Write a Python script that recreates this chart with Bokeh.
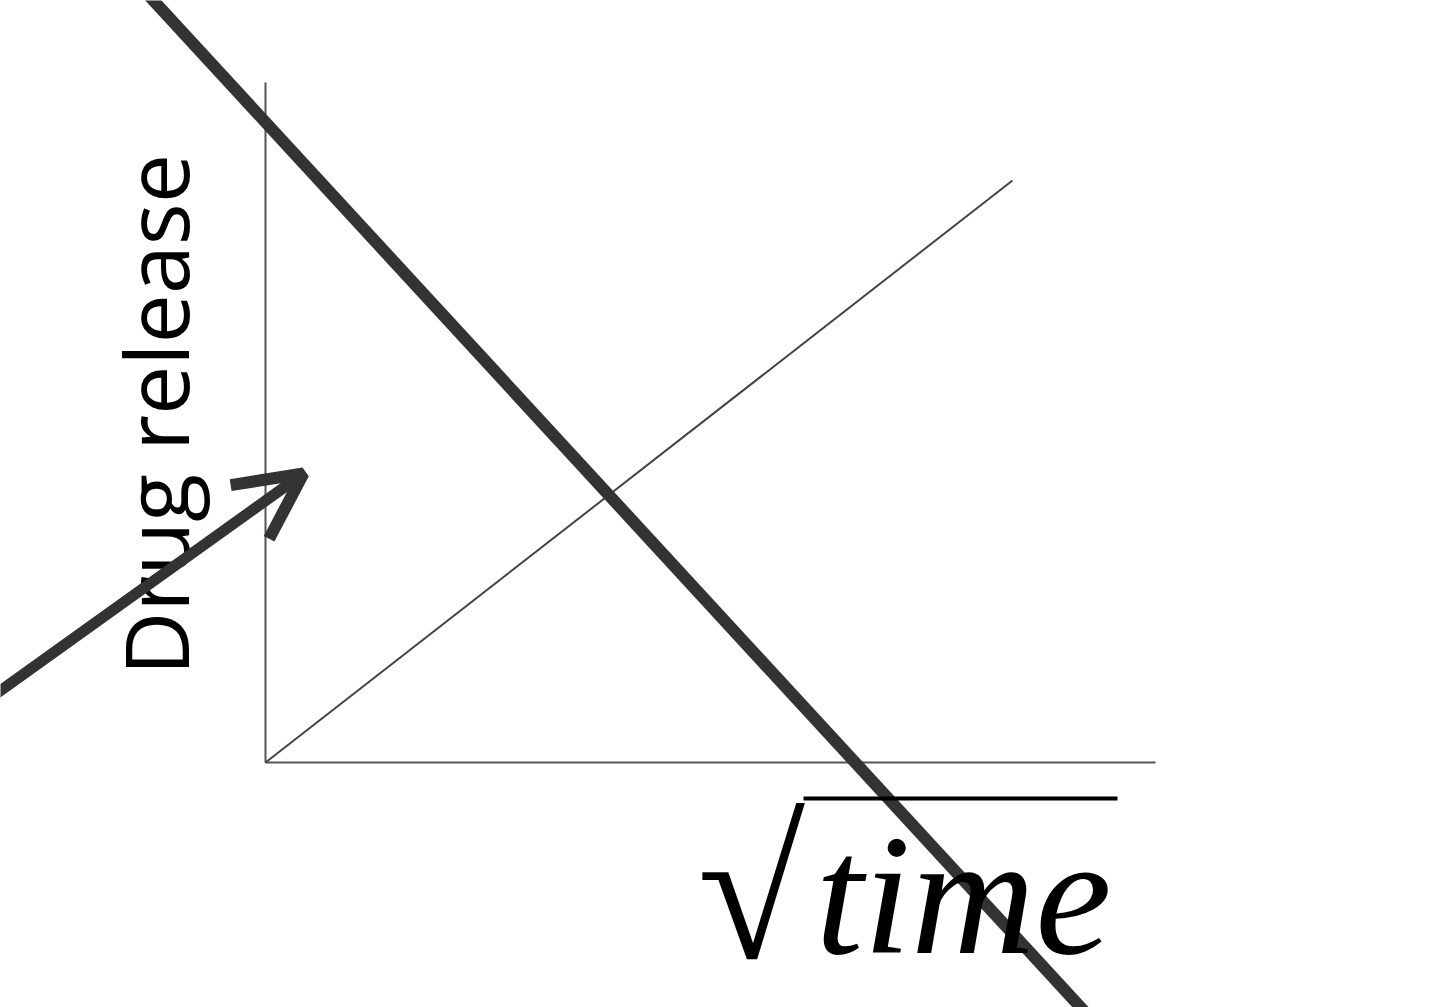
import math
from bokeh.plotting import figure
from bokeh.models import Range1d, Arrow, OpenHead
from bokeh.core.properties import value
from bokeh.embed import file_html
from bokeh.resources import INLINE

# schematic coordinates: origin at the corner of the two axes
x_axis_x = [0, 890]
x_axis_y = [0, 0]
y_axis_x = [0, 0]
y_axis_y = [0, 680]
sqrt_time = [0, 747]
drug_release = [0, 582]
cross_x = [-125, 830]
cross_y = [776, -261]
arrow_start = [-280, 61]
arrow_end = [38, 289]
y_label = ["Drug release"]
x_label = ["time"]
radical = ["\u221a"]
overbar_x = [538, 852]
overbar_y = [-36, -36]

p = figure(width=1440, height=1007, output_backend="svg", toolbar_location=None,
           x_range=Range1d(-265, 1175), y_range=Range1d(-245, 762),
           min_border=0, outline_line_color=None, background_fill_color="white",
           border_fill_color="white")
p.axis.visible = False
p.grid.visible = False

p.line(x_axis_x, x_axis_y, line_color="#555555", line_width=2)
p.line(y_axis_x, y_axis_y, line_color="#555555", line_width=2)
p.line(sqrt_time, drug_release, line_color="#444444", line_width=2)
p.line(cross_x, cross_y, line_color="#333333", line_width=12)

p.add_layout(Arrow(x_start=arrow_start[0], y_start=arrow_start[1],
                   x_end=arrow_end[0], y_end=arrow_end[1],
                   line_color="#333333", line_width=11,
                   end=OpenHead(size=66, line_color="#333333", line_width=12)))

p.text(x=[-111], y=[87], text=y_label, angle=math.pi / 2,
       text_font=value("Open Sans"), text_font_size="88px", text_color="black",
       text_align="left", text_baseline="alphabetic")

p.text(x=[550], y=[-132], text=x_label,
       text_font=value("Liberation Serif"), text_font_style="italic",
       text_font_size="172px", text_color="black",
       text_align="left", text_baseline="alphabetic")

p.text(x=[432], y=[-129], text=radical,
       text_font=value("Liberation Serif"),
       text_font_size="196px", text_color="black",
       text_align="left", text_baseline="alphabetic")

p.line(overbar_x, overbar_y, line_color="black", line_width=4)

open("out.html", "w").write(file_html(p, INLINE))
